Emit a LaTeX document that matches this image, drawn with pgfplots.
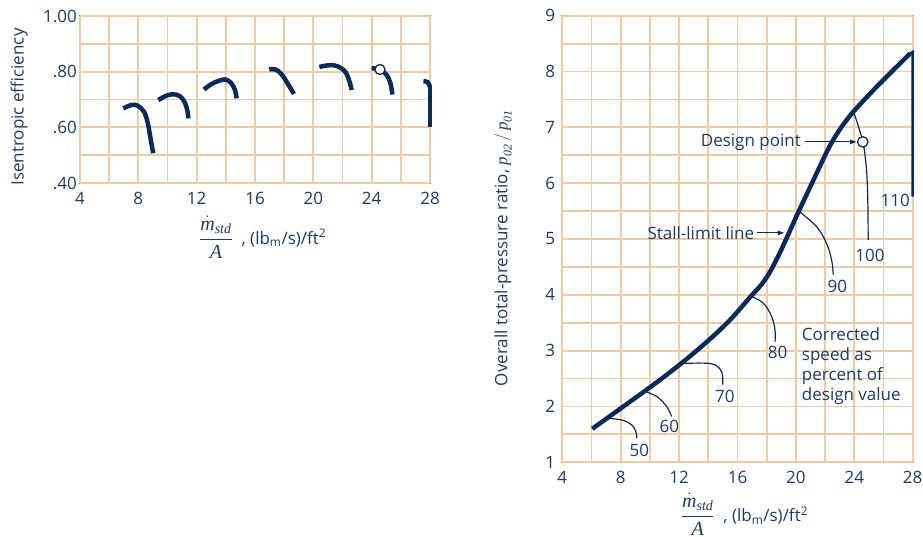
\documentclass[border=0pt]{standalone}
\usepackage{amsmath}
\usepackage{pgfplots}
\pgfplotsset{compat=1.18}
\usetikzlibrary{arrows.meta}
\usepackage{fontspec}
\setmainfont{Open Sans}
\newfontfamily\tnr{Liberation Serif}
\definecolor{navy}{RGB}{12,42,88}
\definecolor{txt}{RGB}{30,58,100}
\definecolor{framec}{RGB}{198,112,28}
\definecolor{gridc}{RGB}{239,204,166}
\newcommand{\sit}[1]{\text{\tnr\itshape #1}}
\newcommand{\flowlabel}{{\fontsize{20}{22}\selectfont$\dfrac{\dot{\sit{m}}_{\sit{std}}}{\sit{A}}$}\ \ , (lb\textsubscript{m}/s)/ft\textsuperscript{2}}
\begin{document}
\fontsize{17}{20}\selectfont
\begin{tikzpicture}[x=1pt,y=1pt]
\useasboundingbox (0pt,0pt) rectangle (923pt,-536pt);
\pgfplotsset{
  chartstyle/.style={
    scale only axis, clip=false,
    axis line style={framec, line width=2.2pt},
    grid=none,
    major tick length=0pt,
    ticklabel style={font=\fontsize{17}{20}\selectfont, text=txt},
    label style={font=\fontsize{17}{20}\selectfont, text=txt},
    xtick={4,8,...,28},
    xticklabels={4,8,12,16,20,24,28},
    extra x ticks={4,6,...,28},
    extra x tick labels={},
    extra y tick labels={},
    extra tick style={grid=major, major grid style={gridc, line width=1.8pt}, major tick length=0pt},
    xmin=4, xmax=28,
    xticklabel style={inner sep=0pt, anchor=north, yshift=-9pt},
  },
  eff/.style={navy, line width=4.5pt, smooth, tension=0.6},
  lead/.style={navy, line width=1.2pt, smooth, tension=0.6},
}
% ---------------- left: efficiency ----------------
\begin{axis}[chartstyle, at={(80pt,-183pt)}, anchor=south west,
  width=350pt, height=167pt,
  ymin=0.4, ymax=1.0,
  ytick={0.4,0.6,0.8,1.0},
  yticklabels={.40,.60,.80,1.00},
  extra y ticks={0.4,0.5,...,1.0},
  yticklabel style={inner sep=0pt, anchor=east, xshift=-3pt},
  ylabel={Isentropic efficiency},
  ylabel style={at={(rel axis cs:-0.174,0.455)}, anchor=center},
  xlabel={\flowlabel},
  xlabel style={at={(rel axis cs:0.522,-0.325)}, anchor=center},
]
% 50 %
\addplot[eff] coordinates {(6.97,0.668) (7.5,0.680) (7.95,0.678) (8.4,0.655) (8.65,0.615) (8.82,0.565) (9.02,0.507)};
% 60 %
\addplot[eff] coordinates {(9.37,0.698) (9.85,0.712) (10.35,0.719) (10.85,0.712) (11.2,0.688) (11.38,0.655) (11.43,0.632)};
% 70 %
\addplot[eff] coordinates {(12.5,0.736) (13.0,0.755) (13.5,0.767) (13.95,0.772) (14.35,0.760) (14.62,0.735) (14.74,0.704)};
% 80 %
\addplot[eff] coordinates {(16.98,0.808) (17.4,0.808) (17.8,0.792) (18.15,0.765) (18.67,0.720)};
% 90 %
\addplot[eff] coordinates {(20.41,0.817) (20.9,0.822) (21.4,0.823) (21.9,0.813) (22.25,0.795) (22.48,0.765) (22.63,0.734)};
% 100 %
\addplot[eff] coordinates {(24.0,0.812) (24.55,0.808) (25.0,0.790) (25.28,0.760) (25.42,0.718)};
% 110 %
\addplot[eff] coordinates {(27.55,0.766) (27.85,0.762) (28.0,0.745)};
\addplot[navy, line width=4.5pt] coordinates {(28.0,0.750) (28.0,0.600)};
% design point
\addplot[only marks, mark=*, mark size=5pt, mark options={fill=white, draw=navy, line width=1.3pt}] coordinates {(24.57,0.808)};
\end{axis}
% ---------------- right: pressure ratio ----------------
\begin{axis}[chartstyle, at={(562.3pt,-462.3pt)}, anchor=south west,
  width=350.4pt, height=446.6pt,
  ymin=1, ymax=9,
  ytick={1,2,...,9},
  yticklabels={1,2,3,4,5,6,7,8,9},
  extra y ticks={1,1.5,...,9},
  yticklabel style={inner sep=0pt, anchor=east, xshift=-7pt},
  ylabel={Overall total-pressure ratio, $\sit{p}_{\sit{02}}\,/\,\sit{p}_{\sit{01}}$},
  ylabel style={at={(rel axis cs:-0.169,0.48)}, anchor=center},
  xlabel={\flowlabel},
  xlabel style={at={(rel axis cs:0.52,-0.117)}, anchor=center},
]
% leader lines
\addplot[lead] coordinates {(7.04,1.79) (8.18,1.75) (8.87,1.64) (9.09,1.49) (9.09,1.43)};
\addplot[lead] coordinates {(9.55,2.28) (10.46,2.18) (11.15,2.0) (11.49,1.82)};
\addplot[lead] coordinates {(12.06,2.77) (14.12,2.77) (14.8,2.67) (14.98,2.54) (14.98,2.39)};
\addplot[lead] coordinates {(16.9,3.98) (17.77,3.85) (18.34,3.61) (18.57,3.37) (18.57,3.16)};
\addplot[lead] coordinates {(20.1,5.52) (21.42,5.22) (22.1,4.92) (22.45,4.62) (22.56,4.36)};
\addplot[lead] coordinates {(23.93,7.3) (24.3,7.0) (24.5,6.83)};
\addplot[lead] coordinates {(24.66,6.65) (24.85,6.2) (24.93,5.6) (24.95,4.98)};
% stall-limit line
\addplot[navy, line width=4.5pt, smooth, tension=0.6] coordinates {
 (6.05,1.60) (8.18,2.0) (10.81,2.5) (13.2,3.0) (15.3,3.5) (17.0,4.0)
 (17.6,4.17) (18.2,4.4) (18.8,4.7) (19.37,5.02) (20.2,5.5) (21.1,6.0)
 (22.0,6.5) (22.5,6.75) (23.0,6.96) (23.5,7.14) (24.0,7.3) (24.85,7.54)
 (25.88,7.82) (27.81,8.32)};
\addplot[navy, line width=2.5pt] coordinates {(27.81,8.32) (28,8.35) (28,5.76)};
% design point
\addplot[only marks, mark=*, mark size=5.2pt, mark options={fill=white, draw=navy, line width=1.3pt}] coordinates {(24.58,6.74)};
% annotations
\draw[navy, line width=1.2pt, -{Latex[length=7pt,width=5pt]}] (axis cs:20.6,6.74) -- (axis cs:24.2,6.74);
\node[anchor=east, text=txt, inner sep=0pt] at (axis cs:20.35,6.74) {Design point};
\draw[navy, line width=1.2pt, -{Latex[length=7pt,width=5pt]}] (axis cs:17.35,5.11) -- (axis cs:19.25,5.11);
\node[anchor=east, text=txt, inner sep=0pt] at (axis cs:17.15,5.11) {Stall-limit line};
\node[text=txt] at (axis cs:9.27,1.22) {50};
\node[text=txt] at (axis cs:11.33,1.65) {60};
\node[text=txt] at (axis cs:15.14,2.18) {70};
\node[text=txt] at (axis cs:18.75,2.97) {80};
\node[text=txt] at (axis cs:22.84,4.15) {90};
\node[text=txt] at (axis cs:25.07,4.71) {100};
\node[text=txt] at (axis cs:26.8,5.70) {110};
\node[text=txt, anchor=north west, align=left, inner sep=0pt, font=\fontsize{17}{20}\selectfont] at (axis cs:20.4,3.42) {Corrected\\speed as\\percent of\\design value};
\end{axis}
\end{tikzpicture}
\end{document}
